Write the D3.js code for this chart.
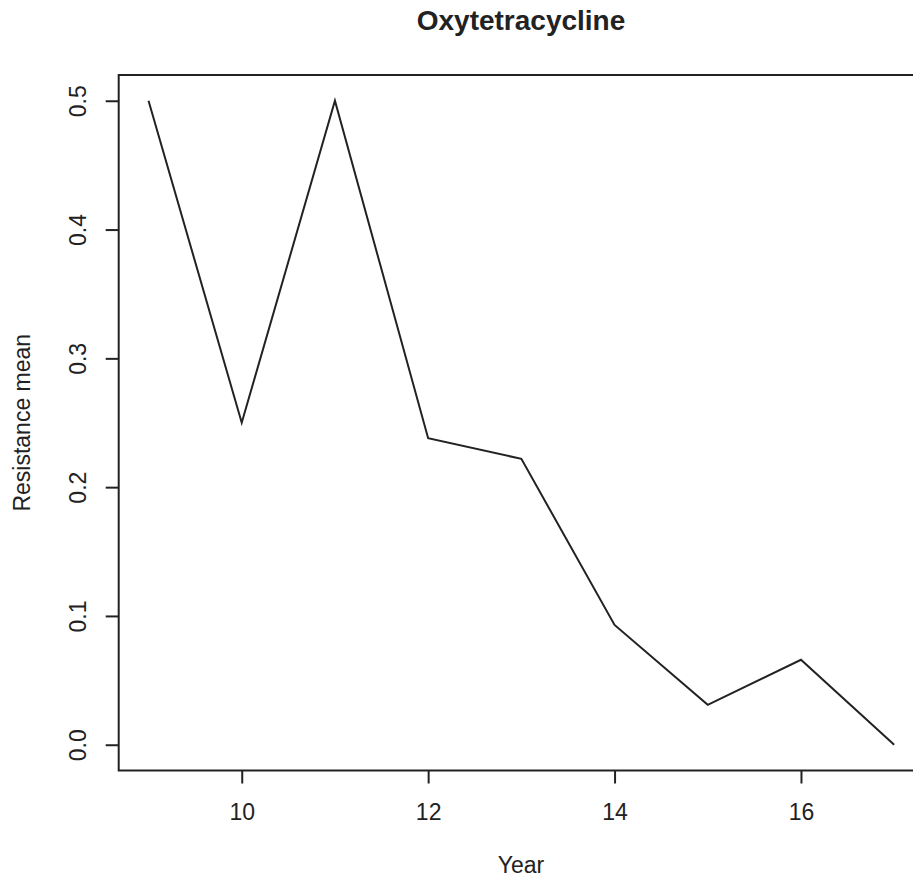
<!DOCTYPE html>
<html>
<head>
<meta charset="utf-8">
<script src="https://cdn.jsdelivr.net/npm/d3@7"></script>
<style>
  body { margin: 0; background: #fff; }
  svg { display: block; font-family: "Liberation Sans", Arial, sans-serif; }
</style>
</head>
<body>
<div class="canvas"></div>
<script>
const years = [9, 10, 11, 12, 13, 14, 15, 16, 17];
const resistance = [0.5, 0.25, 0.5, 0.238, 0.222, 0.093, 0.031, 0.066, 0.0];
const xTicks = [10, 12, 14, 16];
const yTicks = [0.0, 0.1, 0.2, 0.3, 0.4, 0.5];

const W = 913, H = 879;
const plot = { left: 118.7, top: 75, right: 924, bottom: 770.5 };
const font = "Liberation Sans, Arial, sans-serif";
const fs = 23;

const x = d3.scaleLinear().domain([8.68, 17.32]).range([plot.left, plot.right]);
const y = d3.scaleLinear().domain([-0.02, 0.52]).range([plot.bottom, plot.top]);

const svg = d3.select(".canvas").append("svg").attr("width", W).attr("height", H);

svg.append("rect")
  .attr("x", plot.left).attr("y", plot.top)
  .attr("width", plot.right - plot.left).attr("height", plot.bottom - plot.top)
  .attr("fill", "none").attr("stroke", "#222").attr("stroke-width", 2);

// x axis
const xAxis = d3.axisBottom(x).tickValues(xTicks).tickSize(13).tickFormat(d3.format("d"));
const gx = svg.append("g").attr("transform", `translate(0, ${plot.bottom})`).call(xAxis);
gx.select(".domain").remove();
gx.selectAll("line").attr("stroke", "#222").attr("stroke-width", 2);
gx.selectAll("text")
  .attr("y", 820 - plot.bottom).attr("dy", null)
  .attr("font-size", fs).attr("fill", "#222").attr("font-family", font);

// y axis, labels rotated like R's default
const yAxis = d3.axisLeft(y).tickValues(yTicks).tickSize(13).tickFormat(d3.format(".1f"));
const gy = svg.append("g").attr("transform", `translate(${plot.left}, 0)`).call(yAxis);
gy.select(".domain").remove();
gy.selectAll("line").attr("stroke", "#222").attr("stroke-width", 2);
gy.selectAll("text")
  .attr("x", 0).attr("dy", null)
  .attr("transform", `translate(${86 - plot.left}, 0) rotate(-90)`)
  .attr("text-anchor", "middle")
  .attr("font-size", fs).attr("fill", "#222")
  .attr("font-family", font);

const line = d3.line().x((d, i) => x(years[i])).y((d) => y(d));
svg.append("path")
  .datum(resistance)
  .attr("d", line)
  .attr("fill", "none")
  .attr("stroke", "#222")
  .attr("stroke-width", 2);

svg.append("text")
  .attr("x", 521).attr("y", 30)
  .attr("text-anchor", "middle")
  .attr("font-size", 28).attr("font-weight", "bold").attr("fill", "#222")
  .text("Oxytetracycline");

svg.append("text")
  .attr("x", 521).attr("y", 873)
  .attr("text-anchor", "middle")
  .attr("font-size", fs).attr("fill", "#222")
  .text("Year");

svg.append("text")
  .attr("transform", `translate(30, ${(plot.top + plot.bottom) / 2}) rotate(-90)`)
  .attr("text-anchor", "middle")
  .attr("font-size", fs).attr("fill", "#222")
  .text("Resistance mean");
</script>
</body>
</html>
